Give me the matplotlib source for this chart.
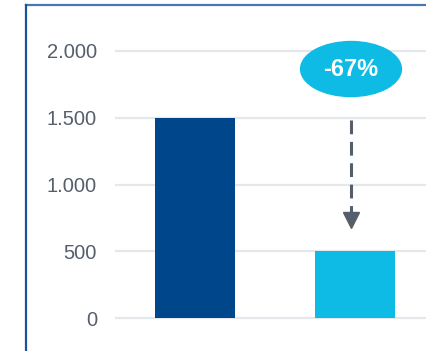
import matplotlib.pyplot as plt
from matplotlib.patches import Ellipse
from matplotlib.lines import Line2D

plt.rcParams['font.family'] = ['Liberation Sans', 'DejaVu Sans']

# values
categories = ["Before", "After"]
values = [1500, 500]
bar_colors = ["#00468b", "#0ebbe4"]
yticks = [0, 500, 1000, 1500, 2000]
ytick_labels = ["0", "500", "1.000", "1.500", "2.000"]
change_label = "-67%"

W, H = 426, 351
fig = plt.figure(figsize=(W / 100, H / 100), dpi=100)

# outer frame (only top and left edges show)
fig.add_artist(Line2D([25.5 / W, 1.0], [1 - 4.5 / H, 1 - 4.5 / H], color="#4a78ae", lw=1.6))
fig.add_artist(Line2D([25.5 / W, 25.5 / W], [0, 1 - 4.5 / H], color="#1a52a0", lw=1.6))

# axes: x from -0.5 to 1.5 (160 px per unit), y 133.5 px per 1000
px_per_x = 160
px_per_y = 133.5 / 1000
ymin, ymax = -100, 2100
left = 115
bottom_px = 318 + (0 - ymin) * px_per_y
top_px = 51 - (ymax - 2000) * px_per_y
ax = fig.add_axes([left / W, (H - bottom_px) / H, 2 * px_per_x / W, (bottom_px - top_px) / H])
ax.set_xlim(-0.5, 1.5)
ax.set_ylim(ymin, ymax)

x = [0, 1]
ax.bar(x, values, width=0.5, color=bar_colors, zorder=3)

for t in yticks:
    ax.axhline(t, color="#e4e7eb", lw=1.6, zorder=1)

ax.set_yticks(yticks)
ax.set_yticklabels(ytick_labels, fontsize=14.5, color="#555f6b")
ax.tick_params(axis="y", length=0, pad=13)
ax.set_xticks([])
for s in ax.spines.values():
    s.set_visible(False)

# change bubble and dashed arrow
cx = 0.975
ax.add_patch(Ellipse((cx, 1865), 0.63, 412, color="#0ebbe4", zorder=4, clip_on=False))
ax.text(cx, 1860, change_label, ha="center", va="center", color="white",
        fontsize=17, fontweight="bold", zorder=5)
ax.plot([cx, cx], [1483, 790], color="#555f6b", lw=2.2, ls=(0, (4.5, 2.5)), zorder=4)
ax.plot([cx], [737], marker="v", color="#555f6b", markersize=12, zorder=4)

fig.savefig("out.png", dpi=100)
